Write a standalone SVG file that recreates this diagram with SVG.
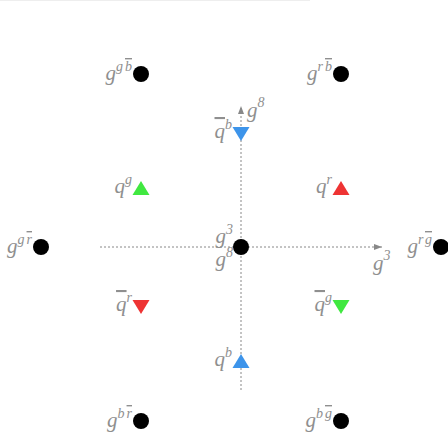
<svg xmlns="http://www.w3.org/2000/svg" width="448" height="435" viewBox="0 0 448 435">
<style>
.lbl{font-family:"Liberation Serif","DejaVu Serif",serif;font-style:italic;font-size:21px;fill:#8f8f8f;text-anchor:end}
.sup{font-size:14px}
.ov{text-decoration:overline}
.dot{fill:#000}
.axis{stroke:#888;stroke-width:1;stroke-dasharray:2,2;fill:none}
</style>
<defs>
<marker id="ah" viewBox="0 0 8 6" refX="8" refY="3" markerWidth="8" markerHeight="6" orient="auto" markerUnits="userSpaceOnUse">
<path d="M0,0 L8,3 L0,6 Z" fill="#888"/>
</marker>
</defs>
<line x1="0" y1="0.5" x2="310" y2="0.5" stroke="#eee" stroke-width="1"/>
<g id="connectors">
<line class="axis" x1="100" y1="247" x2="382" y2="247" marker-end="url(#ah)"/>
<line class="axis" x1="241" y1="390" x2="241" y2="106" marker-end="url(#ah)"/>
<text class="lbl" x="247" y="117" style="text-anchor:start">g<tspan class="sup" dy="-10">8</tspan></text>
<text class="lbl" x="373" y="270" style="text-anchor:start">g<tspan class="sup" dy="-10">3</tspan></text>
</g>
<g id="n-g-gb"><circle class="dot" cx="141" cy="74" r="8"/><text class="lbl" x="132" y="80">g<tspan class="sup" dy="-9">g</tspan><tspan class="sup ov" dx="2">b</tspan></text></g>
<g id="n-g-rb"><circle class="dot" cx="341" cy="74" r="8"/><text class="lbl" x="332" y="80">g<tspan class="sup" dy="-9">r</tspan><tspan class="sup ov" dx="2">b</tspan></text></g>
<g id="n-g-gr"><circle class="dot" cx="41" cy="247" r="8"/><text class="lbl" x="32" y="253">g<tspan class="sup" dy="-9">g</tspan><tspan class="sup ov" dx="2">r</tspan></text></g>
<g id="n-g-rg"><circle class="dot" cx="441" cy="247" r="8"/><text class="lbl" x="432" y="253">g<tspan class="sup" dy="-9">r</tspan><tspan class="sup ov" dx="2">g</tspan></text></g>
<g id="n-g-br"><circle class="dot" cx="141" cy="421" r="8"/><text class="lbl" x="132" y="427">g<tspan class="sup" dy="-9">b</tspan><tspan class="sup ov" dx="2">r</tspan></text></g>
<g id="n-g-bg"><circle class="dot" cx="341" cy="421" r="8"/><text class="lbl" x="332" y="427">g<tspan class="sup" dy="-9">b</tspan><tspan class="sup ov" dx="2">g</tspan></text></g>
<g id="n-center"><circle class="dot" cx="241" cy="247" r="8"/>
<text class="lbl" x="233" y="243">g<tspan class="sup" dy="-9">3</tspan></text>
<text class="lbl" x="233" y="266">g<tspan class="sup" dy="-9">8</tspan></text></g>
<g id="n-qbar-b"><path d="M232.5,127 L249.5,127 L241,141 Z" fill="#3d94ea"/><text class="lbl" x="232" y="138"><tspan class="ov">q</tspan><tspan class="sup" dy="-9">b</tspan></text></g>
<g id="n-q-g"><path d="M132.5,195 L149.5,195 L141,181 Z" fill="#40e840"/><text class="lbl" x="132" y="193">q<tspan class="sup" dy="-9">g</tspan></text></g>
<g id="n-q-r"><path d="M332.5,195 L349.5,195 L341,181 Z" fill="#ee3333"/><text class="lbl" x="332" y="193">q<tspan class="sup" dy="-9">r</tspan></text></g>
<g id="n-qbar-r"><path d="M132.5,300 L149.5,300 L141,314 Z" fill="#ee3333"/><text class="lbl" x="132" y="311"><tspan class="ov">q</tspan><tspan class="sup" dy="-9">r</tspan></text></g>
<g id="n-qbar-g"><path d="M332.5,300 L349.5,300 L341,314 Z" fill="#40e840"/><text class="lbl" x="332" y="311"><tspan class="ov">q</tspan><tspan class="sup" dy="-9">g</tspan></text></g>
<g id="n-q-b"><path d="M232.5,368 L249.5,368 L241,354 Z" fill="#3d94ea"/><text class="lbl" x="232" y="366">q<tspan class="sup" dy="-9">b</tspan></text></g>
</svg>
